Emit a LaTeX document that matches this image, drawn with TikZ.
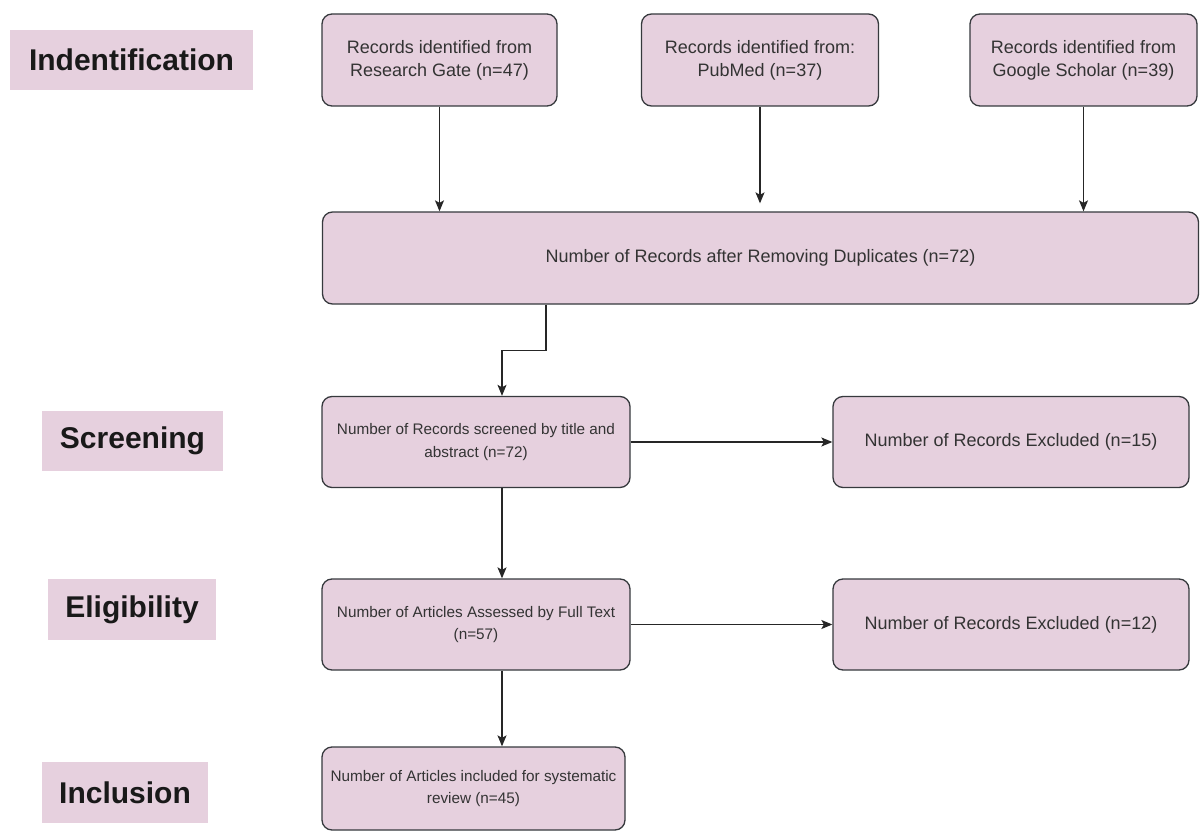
\documentclass[tikz,border=0pt]{standalone}
\usepackage{fontspec}
\setmainfont{Liberation Sans}
\usepackage{xcolor}
\usepackage{tikz}
\usetikzlibrary{positioning,arrows.meta}
\definecolor{boxpink}{RGB}{230,208,222}
\definecolor{boxline}{RGB}{54,57,61}
\definecolor{textgray}{RGB}{51,51,51}

\begin{document}
\begin{tikzpicture}[x=1pt,y=-1pt,
  stage/.style={fill=boxpink, inner sep=0pt, text=black!90, font=\fontsize{30}{36}\selectfont\bfseries},
  record/.style={draw=boxline, fill=boxpink, line width=1.3pt, rounded corners=10pt, inner sep=0pt,
    align=center, text=textgray, minimum height=92pt, font=\fontsize{18}{23}\selectfont},
  narrow/.style={record, minimum width=308pt, minimum height=91pt, font=\fontsize{15.3}{22.5}\selectfont},
  flow/.style={-{Stealth[length=11pt,width=9pt,inset=2.5pt]}, line width=1.3pt, draw=black!85}
]
\useasboundingbox (0,0) rectangle (1200,832);

% stage labels
\node[stage, minimum width=243pt, minimum height=60pt] (ident) at (131.5,60) {Indentification};
\node[stage, minimum width=181pt, minimum height=60pt] (screen) at (132.5,441) {Screening};
\node[stage, minimum width=168pt, minimum height=61pt] (eligible) at (132,609.5) {Eligibility};
\node[stage, minimum width=166pt, minimum height=61pt] (include) at (125,792.5) {Inclusion};

% sources
\node[record, minimum width=235pt] (rg) at (439.5,60) {Records identified from\\Research Gate (n=47)};
\node[record, minimum width=237pt] (pm) at (760,60) {Records identified from:\\PubMed (n=37)};
\node[record, minimum width=227pt] (gs) at (1083.5,60) {Records identified from\\Google Scholar (n=39)};
\node[record, minimum width=876pt] (dup) at (760.5,258) {Number of Records after Removing Duplicates (n=72)};

% screening and beyond
\node[narrow] (scr) at (476,442) {Number of Records screened by title and\\abstract (n=72)};
\node[record, minimum width=356pt, minimum height=91pt] (ex1) at (1011,442) {Number of Records Excluded (n=15)};
\node[narrow] (elig) at (476,624.5) {Number of Articles Assessed by Full Text\\(n=57)};
\node[record, minimum width=356pt, minimum height=91pt] (ex2) at (1011,624.5) {Number of Records Excluded (n=12)};
\node[narrow, minimum width=303pt, minimum height=83pt] (incl) at (473.5,788.5) {Number of Articles included for systematic\\review (n=45)};

\draw[flow] (rg.south) -- (rg.south |- dup.north);
\draw[flow] (pm.south) -- ([yshift=8pt]pm.south |- dup.north);
\draw[flow] (gs.south) -- (gs.south |- dup.north);
\draw[flow] ([xshift=-214.5pt]dup.south) -- ++(0,46) -| ([xshift=26pt]scr.north);
\draw[flow] (scr) -- (ex1);
\draw[flow] ([xshift=26pt]scr.south) -- ([xshift=26pt]elig.north);
\draw[flow] (elig) -- (ex2);
\draw[flow] ([xshift=26pt]elig.south) -- ([xshift=26pt]elig.south |- incl.north);
\end{tikzpicture}
\end{document}
